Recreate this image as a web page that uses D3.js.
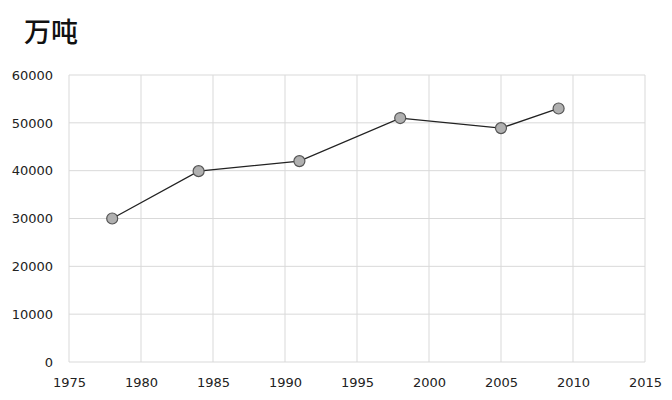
<!DOCTYPE html>
<html>
<head>
<meta charset="utf-8">
<script src="https://cdn.jsdelivr.net/npm/d3@7"></script>
<style>
  body { margin: 0; background: #fff; }
  text { font-family: "DejaVu Sans", sans-serif; }
</style>
</head>
<body>
<script>
const years = [1978, 1984, 1991, 1998, 2005, 2009];
const output = [30000, 39900, 42000, 51000, 48900, 53000]; // 万吨
const xTicks = [1975, 1980, 1985, 1990, 1995, 2000, 2005, 2010, 2015];
const yTicks = [0, 10000, 20000, 30000, 40000, 50000, 60000];
const unitLabel = "万吨";

const width = 672, height = 400;
const margin = {top: 75, right: 27, bottom: 38, left: 69};

let svg = d3.select("body")
  .append("svg")
  .attr("width", width)
  .attr("height", height);

const x = d3.scaleLinear()
  .domain([1975, 2015])
  .range([margin.left, width - margin.right]);

const y = d3.scaleLinear()
  .domain([0, 60000])
  .range([height - margin.bottom, margin.top]);

// grid
svg.append("g")
  .selectAll("line")
  .data(xTicks)
  .enter()
  .append("line")
  .attr("x1", d => x(d)).attr("x2", d => x(d))
  .attr("y1", y(0)).attr("y2", y(60000))
  .attr("stroke", "#d9d9d9")
  .attr("stroke-width", 1);

svg.append("g")
  .selectAll("line")
  .data(yTicks)
  .enter()
  .append("line")
  .attr("x1", x(1975)).attr("x2", x(2015))
  .attr("y1", d => y(d)).attr("y2", d => y(d))
  .attr("stroke", "#d9d9d9")
  .attr("stroke-width", 1);

// axes (labels only)
let yAxis = svg.append("g")
  .attr("transform", `translate(${margin.left - 16},0)`)
  .call(d3.axisLeft(y).tickValues(yTicks).tickFormat(d3.format("d")).tickSize(0).tickPadding(0));
yAxis.select(".domain").remove();
yAxis.selectAll("text")
  .style("font-size", "13px")
  .attr("fill", "#222");

let xAxis = svg.append("g")
  .attr("transform", `translate(0,${y(0) + 12})`)
  .call(d3.axisBottom(x).tickValues(xTicks).tickFormat(d3.format("d")).tickSize(0).tickPadding(4));
xAxis.select(".domain").remove();
xAxis.selectAll("text")
  .style("font-size", "13px")
  .attr("fill", "#222");

// line
const line = d3.line()
  .x((d, i) => x(years[i]))
  .y(d => y(d));

svg.append("path")
  .datum(output)
  .attr("d", line)
  .attr("fill", "none")
  .attr("stroke", "#222")
  .attr("stroke-width", 1.3);

// markers
svg.append("g")
  .selectAll("circle")
  .data(output)
  .enter()
  .append("circle")
  .attr("cx", (d, i) => x(years[i]))
  .attr("cy", d => y(d))
  .attr("r", 5.5)
  .attr("fill", "#b0b0b0")
  .attr("stroke", "#555")
  .attr("stroke-width", 1.2);

// unit title
svg.append("text")
  .attr("x", 24)
  .attr("y", 42)
  .style("font-size", "27px")
  .style("font-family", "'Noto Sans CJK SC', sans-serif")
  .style("font-weight", "500")
  .attr("fill", "#111")
  .text(unitLabel);
</script>
</body>
</html>
